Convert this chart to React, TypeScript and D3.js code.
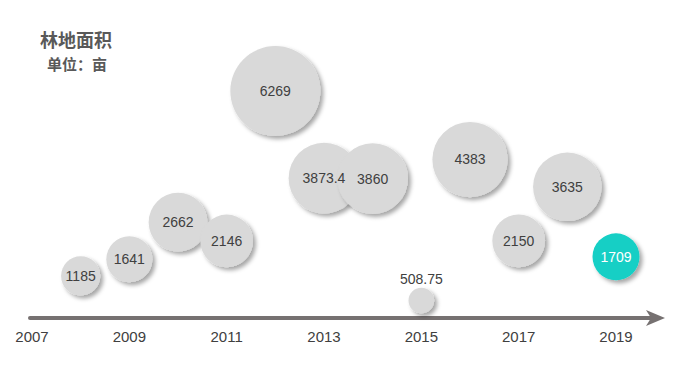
import { useEffect, useRef } from 'react'
import * as d3 from 'd3'

const years = [2008, 2009, 2010, 2011, 2012, 2013, 2014, 2015, 2016, 2017, 2018, 2019]
const areas = [1185, 1641, 2662, 2146, 6269, 3873.4, 3860, 508.75, 4383, 2150, 3635, 1709]
const tickYears = [2007, 2009, 2011, 2013, 2015, 2017, 2019]
const highlightYear = 2019

export default function App() {
  const svgRef = useRef<SVGSVGElement>(null)

  useEffect(() => {
    if (!svgRef.current) return
    const width = 700
    const height = 387
    const baseY = 319

    const svg = d3.select(svgRef.current)
    svg.selectAll('*').remove()
    svg.attr('width', width).attr('height', height)

    const x = d3.scaleLinear().domain([2007, 2019]).range([32, 616])
    const y = d3.scaleLinear().domain([0, 6269]).range([baseY, 91])
    const r = d3.scaleSqrt().domain([0, 6269]).range([0, 45])

    const defs = svg.append('defs')
    const f = defs.append('filter').attr('id', 'shadow')
      .attr('x', '-30%').attr('y', '-30%').attr('width', '170%').attr('height', '170%')
    f.append('feDropShadow')
      .attr('dx', 3).attr('dy', 3).attr('stdDeviation', 2.2)
      .attr('flood-color', '#000').attr('flood-opacity', 0.35)

    // Title
    svg.append('text').attr('x', 40).attr('y', 47)
      .attr('font-family', '"Noto Sans CJK SC", sans-serif').attr('font-weight', 'bold')
      .attr('font-size', '18px').attr('fill', '#595959').text('林地面积')
    svg.append('text').attr('x', 47).attr('y', 70)
      .attr('font-family', '"Noto Sans CJK SC", sans-serif').attr('font-weight', 'bold')
      .attr('font-size', '15px').attr('fill', '#595959').text('单位：亩')

    // Axis line with arrow
    svg.append('line')
      .attr('x1', 30).attr('x2', 652).attr('y1', 318).attr('y2', 318)
      .attr('stroke', '#767171').attr('stroke-width', 4).attr('stroke-linecap', 'round')
    svg.append('path')
      .attr('d', 'M646,310 L665,318 L646,326 L651,318 Z')
      .attr('fill', '#767171')

    // Tick labels
    svg.append('g').selectAll('text').data(tickYears).join('text')
      .attr('x', d => x(d)).attr('y', 342)
      .attr('text-anchor', 'middle')
      .attr('font-family', '"Liberation Sans", Arial, sans-serif')
      .attr('font-size', '15px').attr('fill', '#404040')
      .text(d => d)

    // Bubbles
    const data = years.map((yr, i) => ({ yr, v: areas[i] }))
    const g = svg.append('g')
    data.forEach(d => {
      const hi = d.yr === highlightYear
      g.append('circle')
        .attr('cx', x(d.yr)).attr('cy', y(d.v)).attr('r', r(d.v))
        .attr('fill', hi ? '#12cfc5' : '#d9d9d9')
        .attr('filter', 'url(#shadow)')
    })
    data.forEach(d => {
      const hi = d.yr === highlightYear
      const small = r(d.v) < 16
      g.append('text')
        .attr('x', x(d.yr))
        .attr('y', small ? y(d.v) - r(d.v) - 9 : y(d.v))
        .attr('dy', '0.35em')
        .attr('text-anchor', 'middle')
        .attr('font-family', '"Liberation Sans", Arial, sans-serif')
        .attr('font-size', '14px')
        .attr('fill', hi ? '#ffffff' : '#404040')
        .text(d.v)
    })
  }, [])

  return (
    <div style={{ position: 'fixed', left: 0, top: 0 }}>
      <svg ref={svgRef} style={{ display: 'block', background: '#fff' }} />
    </div>
  )
}
